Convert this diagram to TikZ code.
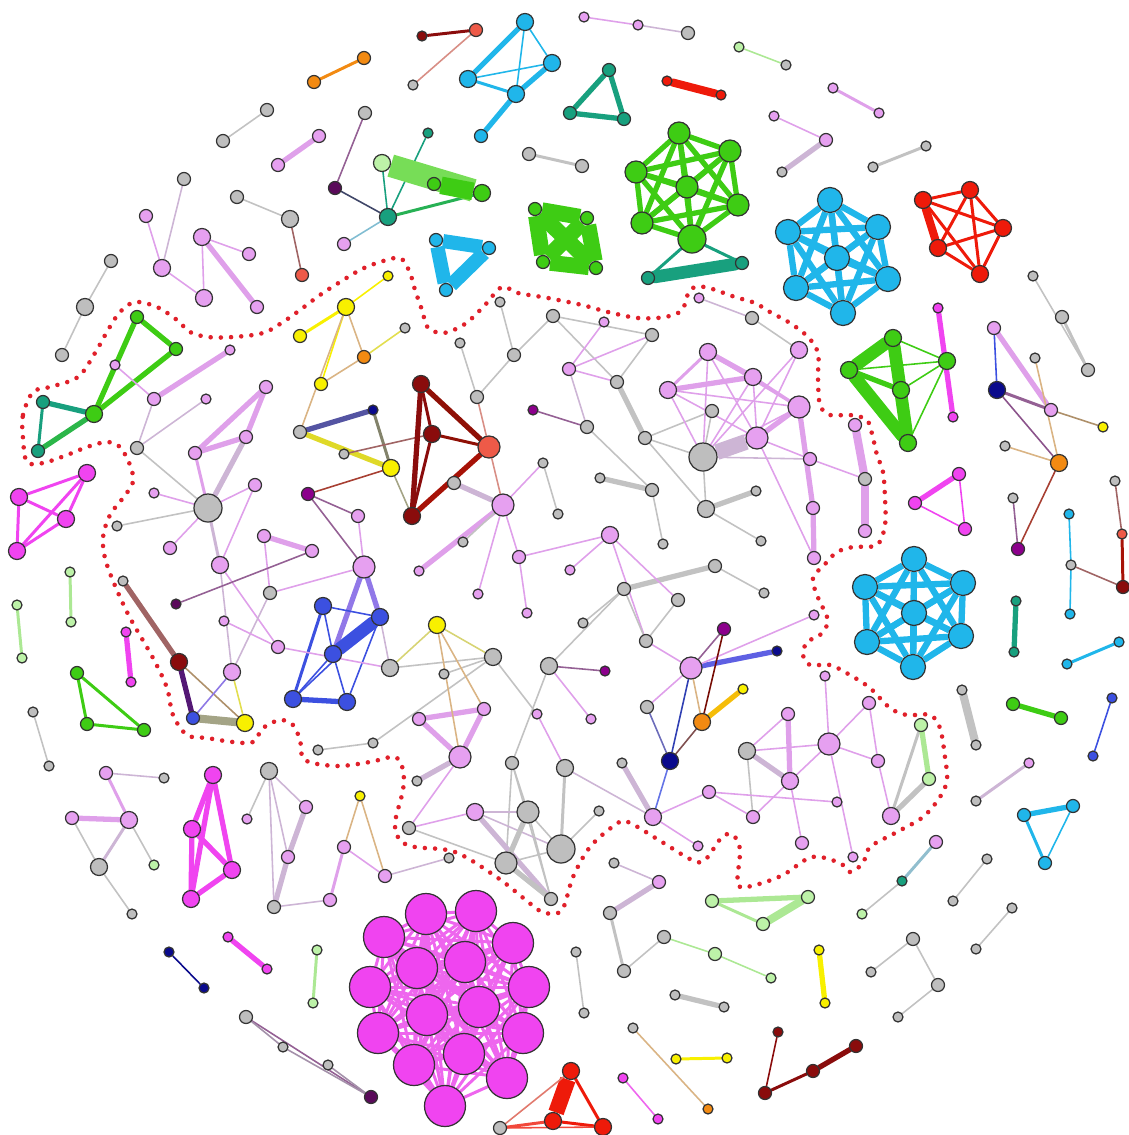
\documentclass[tikz,border=0pt]{standalone}
\pgfdeclarelayer{bg}
\pgfsetlayers{bg,main}

\definecolor{clil}{HTML}{E6A0F0}
\definecolor{cgry}{HTML}{BEBEBE}
\definecolor{cmag}{HTML}{F044F0}
\definecolor{ccyn}{HTML}{20B6EA}
\definecolor{cgrn}{HTML}{3ECC14}
\definecolor{ctea}{HTML}{18A07E}
\definecolor{crdd}{HTML}{EE1A0A}
\definecolor{cdrd}{HTML}{8A0C0C}
\definecolor{csal}{HTML}{EE5A48}
\definecolor{cblu}{HTML}{3C50E0}
\definecolor{cnvy}{HTML}{0A0A8C}
\definecolor{cyel}{HTML}{F8F000}
\definecolor{corg}{HTML}{F28A12}
\definecolor{clgr}{HTML}{BDF2A8}
\definecolor{cpur}{HTML}{8C008C}
\definecolor{cdpu}{HTML}{5A0A5A}
\definecolor{elil}{HTML}{DFA0EA}
\definecolor{egry}{HTML}{C2C2C2}
\definecolor{emix}{HTML}{CDB5D5}
\definecolor{elgr}{HTML}{ACE894}
\definecolor{epur}{HTML}{946094}
\definecolor{etan}{HTML}{DAB484}
\definecolor{ebrn}{HTML}{A06464}
\definecolor{eoli}{HTML}{A4A486}
\definecolor{emag}{HTML}{EE66EE}
\definecolor{cbnd}{HTML}{E0202A}

\tikzset{
  nd/.style={circle, draw=black!80, line width=0.35pt, inner sep=0pt},
  n1/.style={nd, minimum size=0.10cm},
  n2/.style={nd, minimum size=0.13cm},
  n3/.style={nd, minimum size=0.17cm},
  n4/.style={nd, minimum size=0.22cm},
  n5/.style={nd, minimum size=0.28cm},
  n6/.style={nd, minimum size=0.41cm},
  hx/.style={nd, minimum size=0.25cm},
  lil/.style={fill=clil}, gry/.style={fill=cgry}, mag/.style={fill=cmag},
  cyn/.style={fill=ccyn}, grn/.style={fill=cgrn}, tea/.style={fill=ctea},
  rdd/.style={fill=crdd}, drd/.style={fill=cdrd}, sal/.style={fill=csal},
  blu/.style={fill=cblu}, nvy/.style={fill=cnvy}, yel/.style={fill=cyel},
  org/.style={fill=corg}, lgr/.style={fill=clgr}, pur/.style={fill=cpur},
  dpu/.style={fill=cdpu},
  e1/.style={line width=0.45pt, line cap=round},
  e2/.style={line width=0.85pt, line cap=round},
  e3/.style={line width=1.5pt, line cap=round},
  e4/.style={line width=2.3pt, line cap=round},
  e5/.style={line width=3.6pt, line cap=round},
  bnd/.style={draw=cbnd, line width=1.3pt, line cap=round, dash pattern=on 0pt off 2.9pt}
}

\begin{document}
\begin{tikzpicture}[x=0.01cm, y=-0.01cm]
\useasboundingbox (0,0) rectangle (1129,1135);

% -------------------------------------------------------------
% dotted border round the giant component
% -------------------------------------------------------------
\draw[bnd] plot[smooth cycle, tension=0.55] coordinates {
  (23,438) (23,415) (33,392) (50,387) (78,377) (95,353) (108,330) (120,312)
  (135,302) (157,307) (177,320) (190,332) (208,337) (233,337) (263,333)
  (283,322) (300,310) (320,295) (340,282) (360,270) (377,263) (400,258)
  (410,273) (415,290) (422,310) (428,328) (443,333) (458,328) (470,320)
  (485,305) (502,287) (518,293) (548,298) (582,305) (608,312) (638,318)
  (665,317) (682,310) (690,290) (705,287) (735,297) (755,303) (770,312)
  (790,323) (808,337) (818,353) (818,378) (820,405) (830,415) (850,415)
  (867,420) (873,438) (877,455) (883,472) (885,498) (885,525) (877,545)
  (853,547) (837,552) (827,562) (813,578) (817,595) (823,608) (828,622)
  (820,635) (807,642) (803,655) (810,665) (830,665) (850,675) (870,688)
  (890,708) (907,715) (930,715) (940,728) (945,757) (947,780) (940,797)
  (923,817) (897,832) (870,847) (863,863) (850,872) (840,863) (812,857)
  (783,875) (755,885) (738,885) (740,850) (733,835) (722,837) (705,860)
  (692,860) (662,842) (628,822) (615,825) (590,847) (573,877) (562,910)
  (545,913) (532,905) (498,878) (455,852) (415,847) (400,840) (395,823)
  (403,790) (403,770) (395,757) (370,762) (337,766) (305,760) (300,740)
  (293,725) (280,720) (263,728) (253,742) (233,742) (207,738) (187,735)
  (173,715) (167,688) (153,658) (127,612) (107,565) (103,538) (110,515)
  (123,498) (133,482) (130,465) (120,447) (107,442) (87,447) (67,455)
  (43,463) (27,462)};

% -------------------------------------------------------------
% top left, outside
% -------------------------------------------------------------
\node[n2, org] (a1) at (314,82) {};
\node[n2, org] (a2) at (364,58) {};
\node[n2, gry] (a3) at (223,141) {};
\node[n2, gry] (a4) at (267,110) {};
\node[n2, lil] (a5) at (278,165) {};
\node[n2, lil] (a6) at (319,136) {};
\node[n2, gry] (a7) at (184,179) {};
\node[n2, lil] (a8) at (146,216) {};
\node[n3, lil] (a9) at (162,268) {};
\node[n3, lil] (a10) at (202,237) {};
\node[n2, lil] (a11) at (249,254) {};
\node[n3, lil] (a12) at (204,298) {};
\node[n2, lil] (a13) at (257,307) {};
\node[n2, gry] (a14) at (237,197) {};
\node[n3, gry] (a15) at (290,219) {};
\node[n2, sal] (a16) at (302,275) {};
\node[n2, gry] (a17) at (111,261) {};
\node[n3, gry] (a18) at (85,307) {};
\node[n2, gry] (a19) at (62,355) {};
\begin{pgfonlayer}{bg}
  \draw[e2, corg] (a1) -- (a2);
  \draw[e1, egry] (a3) -- (a4);
  \draw[e3, elil] (a5) -- (a6);
  \draw[e1, emix] (a9) -- (a7);
  \draw[e1, elil] (a9) -- (a8);
  \draw[e1, elil] (a9) -- (a12);
  \draw[e1, elil] (a10) -- (a11);
  \draw[e1, elil] (a10) -- (a12);
  \draw[e3, elil] (a10) -- (a13);
  \draw[e1, egry] (a14) -- (a15);
  \draw[e1, ebrn] (a15) -- (a16);
  \draw[e1, egry] (a17) -- (a18);
  \draw[e1, egry] (a18) -- (a19);
\end{pgfonlayer}

% teal star with the light green band
\node[n2, dpu] (b1) at (335,188) {};
\node[n2, gry] (b2) at (365,113) {};
\node[n3, tea] (b3) at (388,217) {};
\node[n2, lil] (b4) at (344,244) {};
\node[n1, tea] (b5) at (428,133) {};
\node[n3, lgr] (b6) at (382,163) {};
\node[n2, grn] (b7) at (434,184) {};
\node[n3, grn] (b8) at (482,193) {};
\begin{pgfonlayer}{bg}
  \draw[e1, epur] (b1) -- (b2);
  \draw[e1, cdpu!60!ctea] (b1) -- (b3);
  \draw[e1, ccyn!40!egry] (b4) -- (b3);
  \draw[e1, ctea] (b3) -- (b5);
  \draw[e1, ctea] (b3) -- (b6);
  \draw[e2, ctea!60!cgrn] (b3) -- (b8);
  \draw[line width=6.5pt, cgrn!55!clgr] (b6) -- (b8);
  \draw[line width=5pt, cgrn] (b7) -- (b8);
\end{pgfonlayer}

% -------------------------------------------------------------
% top middle, outside
% -------------------------------------------------------------
\node[n1, drd] (c1) at (422,36) {};
\node[n2, sal] (c2) at (476,30) {};
\node[n1, gry] (c3) at (413,85) {};
\node[n3, cyn] (c4) at (525,22) {};
\node[n3, cyn] (c5) at (552,63) {};
\node[n3, cyn] (c6) at (468,79) {};
\node[n3, cyn] (c7) at (516,94) {};
\node[n2, cyn] (c8) at (481,136) {};
\node[n1, lil] (c9) at (584,17) {};
\node[n1, lil] (c10) at (638,25) {};
\node[n2, gry] (c11) at (688,33) {};
\node[n1, lgr] (c12) at (739,47) {};
\node[n1, gry] (c13) at (786,65) {};
\node[n2, tea] (c14) at (609,70) {};
\node[n2, tea] (c15) at (570,113) {};
\node[n2, tea] (c16) at (624,119) {};
\node[n1, rdd] (c17) at (667,81) {};
\node[n1, rdd] (c18) at (721,95) {};
\node[n2, gry] (c19) at (529,154) {};
\node[n2, gry] (c20) at (582,166) {};
\begin{pgfonlayer}{bg}
  \draw[e2, cdrd] (c1) -- (c2);
  \draw[e1, csal!50!egry] (c2) -- (c3);
  \draw[e3, ccyn] (c4) -- (c6);
  \draw[e1, ccyn] (c4) -- (c5);
  \draw[e1, ccyn] (c4) -- (c7);
  \draw[e1, ccyn] (c6) -- (c5);
  \draw[e2, ccyn] (c6) -- (c7);
  \draw[e3, ccyn] (c5) -- (c7);
  \draw[e3, ccyn] (c7) -- (c8);
  \draw[e1, elil] (c9) -- (c10);
  \draw[e1, emix] (c10) -- (c11);
  \draw[e1, elgr] (c12) -- (c13);
  \draw[e3, ctea] (c14) -- (c15);
  \draw[e3, ctea] (c14) -- (c16);
  \draw[e3, ctea] (c15) -- (c16);
  \draw[e4, crdd] (c17) -- (c18);
  \draw[e2, egry] (c19) -- (c20);
\end{pgfonlayer}

% green K7 and its teal tail
\node[n4, grn] (d1) at (679,133) {};
\node[n4, grn] (d2) at (730,151) {};
\node[n4, grn] (d3) at (636,172) {};
\node[n4, grn] (d4) at (687,187) {};
\node[n4, grn] (d5) at (738,205) {};
\node[n4, grn] (d6) at (642,223) {};
\node[n5, grn] (d7) at (692,239) {};
\node[n2, tea] (d8) at (648,278) {};
\node[n2, tea] (d9) at (742,263) {};
\begin{pgfonlayer}{bg}
  \foreach \i in {1,...,6}{
    \pgfmathtruncatemacro\k{\i+1}
    \foreach \j in {\k,...,7}{\draw[e3, cgrn] (d\i) -- (d\j);}}
  \draw[e2, ctea] (d7) -- (d8);
  \draw[e2, ctea] (d7) -- (d9);
  \draw[e5, ctea] (d8) -- (d9);
\end{pgfonlayer}

% green K4 and cyan triangle
\node[n2, grn] (e1) at (535,209) {};
\node[n2, grn] (e2) at (587,218) {};
\node[n2, grn] (e3) at (543,262) {};
\node[n2, grn] (e4) at (596,268) {};
\node[n2, cyn] (f1) at (436,240) {};
\node[n2, cyn] (f2) at (489,248) {};
\node[n2, cyn] (f3) at (446,290) {};
\begin{pgfonlayer}{bg}
  \foreach \a/\b in {e1/e2,e1/e3,e1/e4,e2/e3,e2/e4,e3/e4}
    \draw[line width=4.5pt, cgrn] (\a) -- (\b);
  \foreach \a/\b in {f1/f2,f2/f3,f3/f1}
    \draw[line width=4pt, ccyn] (\a) -- (\b);
\end{pgfonlayer}

% -------------------------------------------------------------
% top right and right, outside
% -------------------------------------------------------------
\node[n1, lil] (g1) at (833,88) {};
\node[n1, lil] (g2) at (879,113) {};
\node[n1, lil] (g3) at (774,116) {};
\node[n2, lil] (g4) at (826,140) {};
\node[n1, gry] (g5) at (782,172) {};
\node[n1, gry] (g6) at (873,167) {};
\node[n1, gry] (g7) at (926,146) {};
\node[hx, cyn] (h1) at (830,200) {};
\node[hx, cyn] (h2) at (788,232) {};
\node[hx, cyn] (h3) at (878,227) {};
\node[hx, cyn] (h4) at (837,258) {};
\node[hx, cyn] (h5) at (796,288) {};
\node[hx, cyn] (h6) at (888,279) {};
\node[hx, cyn] (h7) at (843,313) {};
\node[n3, rdd] (r1) at (923,200) {};
\node[n3, rdd] (r2) at (970,190) {};
\node[n3, rdd] (r3) at (1003,228) {};
\node[n3, rdd] (r4) at (938,248) {};
\node[n3, rdd] (r5) at (980,274) {};
\node[n1, gry] (g8) at (1033,276) {};
\node[n2, gry] (g9) at (1062,317) {};
\node[n2, gry] (g10) at (1088,370) {};
\node[n1, mag] (g11) at (938,308) {};
\node[n1, mag] (g12) at (953,417) {};
\node[n3, grn] (k1) at (893,338) {};
\node[n3, grn] (k2) at (947,361) {};
\node[n3, grn] (k3) at (849,370) {};
\node[n3, grn] (k4) at (901,390) {};
\node[n3, grn] (k5) at (908,443) {};
\node[n2, lil] (g13) at (994,328) {};
\node[n3, nvy] (g14) at (997,390) {};
\node[n2, lil] (g15) at (1051,410) {};
\node[n1, yel] (g16) at (1103,427) {};
\node[n1, gry] (g17) at (1005,446) {};
\node[n3, org] (g18) at (1059,463) {};
\node[n1, gry] (g19) at (1035,358) {};
\node[n1, gry] (g20) at (1013,498) {};
\node[n2, pur] (g21) at (1018,549) {};
\node[n2, mag] (m1) at (959,474) {};
\node[n2, mag] (m2) at (915,503) {};
\node[n2, mag] (m3) at (965,529) {};
\node[n1, cyn] (g22) at (1069,514) {};
\node[n1, gry] (g23) at (1071,565) {};
\node[n1, cyn] (g24) at (1070,614) {};
\node[n1, gry] (g25) at (1115,481) {};
\node[n1, sal] (g26) at (1122,534) {};
\node[n2, drd] (g27) at (1123,587) {};
\node[hx, cyn] (p1) at (914,559) {};
\node[hx, cyn] (p2) at (865,587) {};
\node[hx, cyn] (p3) at (963,583) {};
\node[hx, cyn] (p4) at (914,613) {};
\node[hx, cyn] (p5) at (867,642) {};
\node[hx, cyn] (p6) at (961,636) {};
\node[hx, cyn] (p7) at (913,667) {};
\node[n1, tea] (g28) at (1016,601) {};
\node[n1, tea] (g29) at (1014,652) {};
\node[n1, cyn] (g30) at (1067,664) {};
\node[n1, cyn] (g31) at (1119,642) {};
\node[n1, gry] (g32) at (962,690) {};
\node[n1, gry] (g33) at (976,745) {};
\node[n2, grn] (g34) at (1013,704) {};
\node[n2, grn] (g35) at (1061,718) {};
\node[n1, blu] (g36) at (1112,698) {};
\node[n1, blu] (g37) at (1093,756) {};
\begin{pgfonlayer}{bg}
  \draw[e2, elil] (g1) -- (g2);
  \draw[e1, elil] (g3) -- (g4);
  \draw[e3, emix] (g4) -- (g5);
  \draw[e2, egry] (g6) -- (g7);
  \foreach \i in {1,...,6}{
    \pgfmathtruncatemacro\k{\i+1}
    \foreach \j in {\k,...,7}{\draw[line width=1.8pt, ccyn] (h\i) -- (h\j);}}
  \foreach \i in {1,...,4}{
    \pgfmathtruncatemacro\k{\i+1}
    \foreach \j in {\k,...,5}{\draw[e2, crdd] (r\i) -- (r\j);}}
  \draw[e4, crdd] (r1) -- (r4);
  \draw[e1, egry] (g8) -- (g10);
  \draw[e2, egry] (g9) -- (g10);
  \draw[e3, cmag] (g11) -- (g12);
  \draw[e5, cgrn] (k1) -- (k3);
  \draw[e5, cgrn] (k1) -- (k5);
  \draw[e5, cgrn] (k3) -- (k5);
  \draw[e3, cgrn] (k3) -- (k4);
  \draw[e3, cgrn] (k1) -- (k4);
  \draw[e3, cgrn] (k4) -- (k5);
  \foreach \j in {1,3,4,5} \draw[e1, cgrn] (k2) -- (k\j);
  \draw[e1, cblu] (g13) -- (g14);
  \draw[e3, elil] (g13) -- (g15);
  \draw[e2, epur] (g14) -- (g15);
  \draw[e1, cdpu!70] (g14) -- (g18);
  \draw[e1, etan!80!black] (g15) -- (g16);
  \draw[e1, etan] (g17) -- (g18);
  \draw[e1, etan] (g19) -- (g18);
  \draw[e1, epur] (g20) -- (g21);
  \draw[e1, csal!70!black] (g18) -- (g21);
  \draw[e3, cmag] (m1) -- (m2);
  \draw[e1, cmag] (m2) -- (m3);
  \draw[e1, cmag] (m1) -- (m3);
  \draw[e1, ccyn] (g22) -- (g23);
  \draw[e1, ccyn] (g23) -- (g24);
  \draw[e1, ebrn] (g25) -- (g26);
  \draw[e2, crdd!70!black] (g26) -- (g27);
  \draw[e1, ebrn] (g23) -- (g27);
  \foreach \i in {1,...,6}{
    \pgfmathtruncatemacro\k{\i+1}
    \foreach \j in {\k,...,7}{\draw[line width=1.8pt, ccyn] (p\i) -- (p\j);}}
  \draw[e3, ctea] (g28) -- (g29);
  \draw[e2, ccyn] (g30) -- (g31);
  \draw[e4, egry] (g32) -- (g33);
  \draw[e3, cgrn] (g34) -- (g35);
  \draw[e1, cblu] (g36) -- (g37);
\end{pgfonlayer}

% -------------------------------------------------------------
% bottom right, outside
% -------------------------------------------------------------
\node[n1, gry] (q1) at (976,801) {};
\node[n1, lil] (q2) at (1029,763) {};
\node[n2, cyn] (q3) at (1024,815) {};
\node[n2, cyn] (q4) at (1073,806) {};
\node[n2, cyn] (q5) at (1045,863) {};
\node[n1, gry] (q6) at (987,859) {};
\node[n1, gry] (q7) at (953,901) {};
\node[n1, gry] (q8) at (1012,908) {};
\node[n1, gry] (q9) at (976,949) {};
\node[n2, lil] (q10) at (936,842) {};
\node[n1, tea] (q11) at (902,881) {};
\node[n1, lgr] (q12) at (862,914) {};
\node[n2, lgr] (q13) at (712,901) {};
\node[n2, lgr] (q14) at (808,897) {};
\node[n2, lgr] (q15) at (763,924) {};
\node[n1, yel] (q16) at (819,950) {};
\node[n1, yel] (q17) at (825,1003) {};
\node[n1, gry] (q18) at (871,972) {};
\node[n2, gry] (q19) at (913,939) {};
\node[n2, gry] (q20) at (938,985) {};
\node[n1, gry] (q21) at (898,1017) {};
\node[n1, drd] (q22) at (778,1032) {};
\node[n2, drd] (q23) at (765,1093) {};
\node[n2, drd] (q24) at (813,1071) {};
\node[n2, drd] (q25) at (856,1046) {};
\begin{pgfonlayer}{bg}
  \draw[e2, emix] (q1) -- (q2);
  \draw[e3, ccyn] (q3) -- (q4);
  \draw[e2, ccyn] (q3) -- (q5);
  \draw[e1, ccyn] (q4) -- (q5);
  \draw[e1, egry] (q6) -- (q7);
  \draw[e1, egry] (q8) -- (q9);
  \draw[e2, ccyn!30!egry] (q10) -- (q11);
  \draw[e1, egry] (q11) -- (q12);
  \draw[e3, elgr] (q13) -- (q14);
  \draw[e4, elgr] (q14) -- (q15);
  \draw[e2, elgr] (q13) -- (q15);
  \draw[e3, cyel] (q16) -- (q17);
  \draw[e1, egry] (q18) -- (q19);
  \draw[e1, egry] (q19) -- (q20);
  \draw[e1, egry] (q20) -- (q21);
  \draw[e1, cdrd] (q22) -- (q23);
  \draw[e2, cdrd] (q23) -- (q24);
  \draw[e3, cdrd] (q24) -- (q25);
\end{pgfonlayer}

% -------------------------------------------------------------
% bottom middle, outside
% -------------------------------------------------------------
\node[n1, gry] (s1) at (614,863) {};
\node[n2, lil] (s2) at (659,882) {};
\node[n2, gry] (s3) at (610,913) {};
\node[n2, gry] (s4) at (624,971) {};
\node[n2, gry] (s5) at (664,937) {};
\node[n2, lgr] (s6) at (715,954) {};
\node[n1, lgr] (s7) at (771,978) {};
\node[n1, gry] (s8) at (576,952) {};
\node[n1, gry] (s9) at (584,1013) {};
\node[n1, gry] (s10) at (675,995) {};
\node[n1, gry] (s11) at (724,1007) {};
\node[n1, gry] (s12) at (633,1028) {};
\node[n1, org] (s13) at (708,1109) {};
\node[n1, yel] (s14) at (676,1059) {};
\node[n1, yel] (s15) at (727,1058) {};
\node[n1, mag] (s16) at (623,1078) {};
\node[n1, mag] (s17) at (658,1119) {};
\node[n3, rdd] (t1) at (571,1071) {};
\node[n3, rdd] (t2) at (553,1121) {};
\node[n3, rdd] (t3) at (603,1127) {};
\node[n2, gry] (t4) at (500,1128) {};
\begin{pgfonlayer}{bg}
  \draw[e1, emix] (s1) -- (s2);
  \draw[e3, emix] (s2) -- (s3);
  \draw[e2, egry] (s3) -- (s4);
  \draw[e1, egry] (s4) -- (s5);
  \draw[e1, elgr] (s5) -- (s6);
  \draw[e1, elgr] (s6) -- (s7);
  \draw[e1, egry] (s8) -- (s9);
  \draw[e3, egry] (s10) -- (s11);
  \draw[e1, etan] (s12) -- (s13);
  \draw[e2, cyel] (s14) -- (s15);
  \draw[e1, emag] (s16) -- (s17);
  \draw[line width=4.5pt, crdd] (t1) -- (t2);
  \draw[e2, crdd] (t1) -- (t3);
  \draw[e2, crdd] (t2) -- (t3);
  \draw[e1, csal!70!egry] (t4) -- (t1);
  \draw[e2, crdd!80] (t4) -- (t2);
  \draw[e1, crdd!80] (t4) -- (t3);
\end{pgfonlayer}

% big magenta clique
\node[n6, mag] (M1) at (426,914) {};
\node[n6, mag] (M2) at (476,911) {};
\node[n6, mag] (M3) at (384,937) {};
\node[n6, mag] (M4) at (513,943) {};
\node[n6, mag] (M5) at (417,968) {};
\node[n6, mag] (M6) at (465,962) {};
\node[n6, mag] (M7) at (370,987) {};
\node[n6, mag] (M8) at (529,987) {};
\node[n6, mag] (M9) at (427,1015) {};
\node[n6, mag] (M10) at (479,1007) {};
\node[n6, mag] (M11) at (378,1033) {};
\node[n6, mag] (M12) at (523,1033) {};
\node[n6, mag] (M13) at (414,1065) {};
\node[n6, mag] (M14) at (464,1054) {};
\node[n6, mag] (M15) at (507,1078) {};
\node[n6, mag] (M16) at (445,1106) {};
\begin{pgfonlayer}{bg}
  \foreach \i in {1,...,15}{
    \pgfmathtruncatemacro\k{\i+1}
    \foreach \j in {\k,...,16}{\draw[e2, emag] (M\i) -- (M\j);}}
\end{pgfonlayer}

% -------------------------------------------------------------
% bottom left and left, outside
% -------------------------------------------------------------
\node[n1, gry] (u1) at (33,712) {};
\node[n1, gry] (u2) at (49,766) {};
\node[n2, lil] (u3) at (106,773) {};
\node[n1, gry] (u4) at (164,778) {};
\node[n2, lil] (u5) at (72,818) {};
\node[n3, lil] (u6) at (129,820) {};
\node[n3, gry] (u7) at (99,867) {};
\node[n1, lgr] (u8) at (154,865) {};
\node[n1, gry] (u9) at (132,914) {};
\node[n3, mag] (v1) at (213,775) {};
\node[n3, mag] (v2) at (192,829) {};
\node[n3, mag] (v3) at (232,870) {};
\node[n3, mag] (v4) at (191,899) {};
\node[n3, gry] (w1) at (269,771) {};
\node[n1, lil] (w2) at (247,819) {};
\node[n2, lil] (w3) at (306,807) {};
\node[n2, lil] (w4) at (288,857) {};
\node[n2, gry] (w5) at (274,907) {};
\node[n2, lil] (w6) at (330,900) {};
\node[n2, lil] (w7) at (344,847) {};
\node[n1, yel] (w8) at (360,796) {};
\node[n2, lil] (w9) at (385,876) {};
\node[n1, nvy] (x1) at (169,952) {};
\node[n1, nvy] (x2) at (204,988) {};
\node[n1, mag] (x3) at (228,937) {};
\node[n1, mag] (x4) at (267,969) {};
\node[n1, lgr] (x5) at (317,950) {};
\node[n1, lgr] (x6) at (313,1003) {};
\node[n2, gry] (x7) at (246,1017) {};
\node[n1, gry] (x8) at (283,1047) {};
\node[n1, gry] (x9) at (328,1065) {};
\node[n2, dpu] (x10) at (371,1097) {};
\node[n3, mag] (y1) at (87,473) {};
\node[n3, mag] (y2) at (19,497) {};
\node[n3, mag] (y3) at (66,519) {};
\node[n3, mag] (y4) at (17,551) {};
\node[n1, lgr] (y5) at (70,572) {};
\node[n1, lgr] (y6) at (71,622) {};
\node[n1, lgr] (y7) at (17,605) {};
\node[n1, lgr] (y8) at (22,658) {};
\node[n1, mag] (y9) at (126,632) {};
\node[n1, mag] (y10) at (131,682) {};
\node[n2, grn] (y11) at (77,673) {};
\node[n2, grn] (y12) at (87,724) {};
\node[n2, grn] (y13) at (144,730) {};
\begin{pgfonlayer}{bg}
  \draw[e1, egry] (u1) -- (u2);
  \draw[e1, emix] (u3) -- (u4);
  \draw[e2, elil] (u3) -- (u6);
  \draw[e3, elil] (u5) -- (u6);
  \draw[e1, egry] (u5) -- (u7);
  \draw[e2, emix] (u6) -- (u7);
  \draw[e1, egry] (u6) -- (u8);
  \draw[e1, egry] (u7) -- (u9);
  \foreach \a/\b in {v1/v2,v1/v3,v1/v4,v2/v3,v2/v4,v3/v4}
    \draw[e3, cmag] (\a) -- (\b);
  \draw[e1, egry] (w1) -- (w2);
  \draw[e1, emix] (w1) -- (w3);
  \draw[e1, emix] (w1) -- (w5);
  \draw[e1, emix] (w1) -- (w4);
  \draw[e3, emix] (w3) -- (w4);
  \draw[e3, emix] (w4) -- (w5);
  \draw[e1, emix] (w5) -- (w6);
  \draw[e2, elil] (w6) -- (w7);
  \draw[e1, etan] (w7) -- (w8);
  \draw[e1, etan] (w8) -- (w9);
  \draw[e1, elil] (w7) -- (w9);
  \draw[e1, cnvy] (x1) -- (x2);
  \draw[e3, cmag] (x3) -- (x4);
  \draw[e2, elgr] (x5) -- (x6);
  \draw[e1, epur] (x7) -- (x10);
  \draw[e1, emix!80!black] (x7) -- (x8);
  \draw[e1, emix!80!black] (x8) -- (x10);
  \draw[e1, emix!80!black] (x9) -- (x10);
  \foreach \a/\b in {y1/y2,y1/y3,y1/y4,y2/y3,y2/y4,y3/y4}
    \draw[e2, cmag] (\a) -- (\b);
  \draw[e2, elgr] (y5) -- (y6);
  \draw[e2, elgr] (y7) -- (y8);
  \draw[e3, cmag] (y9) -- (y10);
  \draw[e2, cgrn] (y11) -- (y12);
  \draw[e2, cgrn] (y12) -- (y13);
  \draw[e2, cgrn] (y11) -- (y13);
\end{pgfonlayer}

% -------------------------------------------------------------
% inside the border: left part
% -------------------------------------------------------------
\node[n2, grn] (i1) at (137,317) {};
\node[n2, grn] (i2) at (176,349) {};
\node[n3, grn] (i3) at (94,414) {};
\node[n2, tea] (i4) at (43,402) {};
\node[n2, tea] (i5) at (38,451) {};
\node[n1, lil] (i6) at (230,350) {};
\node[n2, lil] (i7) at (154,399) {};
\node[n1, lil] (i8) at (115,365) {};
\node[n1, lil] (i9) at (206,399) {};
\node[n2, lil] (i10) at (266,387) {};
\node[n2, lil] (i11) at (246,437) {};
\node[n2, lil] (i12) at (195,453) {};
\node[n2, gry] (i13) at (137,448) {};
\node[n5, gry] (i14) at (208,508) {};
\node[n1, lil] (i15) at (154,493) {};
\node[n1, gry] (i16) at (117,526) {};
\node[n2, lil] (i17) at (255,485) {};
\node[n2, lil] (i18) at (170,548) {};
\node[n3, lil] (i19) at (220,565) {};
\node[n2, lil] (i20) at (264,536) {};
\node[n2, lil] (i21) at (312,551) {};
\node[n2, pur] (i22) at (308,494) {};
\node[n2, lil] (i23) at (358,516) {};
\node[n4, lil] (i24) at (364,567) {};
\node[n2, gry] (i25) at (270,593) {};
\node[n1, dpu] (i26) at (176,604) {};
\node[n1, lil] (i27) at (224,621) {};
\node[n2, lil] (i28) at (278,647) {};
\node[n3, lil] (i29) at (232,672) {};
\node[n1, gry] (i30) at (123,581) {};
\node[n3, drd] (i31) at (179,662) {};
\node[n2, blu] (i32) at (193,718) {};
\node[n3, yel] (i33) at (245,723) {};

% yellow, dark red and blue groups
\node[n2, yel] (j1) at (300,336) {};
\node[n3, yel] (j2) at (346,307) {};
\node[n2, org] (j3) at (364,357) {};
\node[n2, yel] (j4) at (321,384) {};
\node[n1, gry] (j5) at (405,328) {};
\node[n1, yel] (j6) at (388,276) {};
\node[n2, gry] (o1) at (300,432) {};
\node[n1, nvy] (o2) at (373,410) {};
\node[n3, yel] (o3) at (391,468) {};
\node[n1, gry] (o4) at (344,454) {};
\node[n3, drd] (o5) at (421,384) {};
\node[n3, drd] (o6) at (432,434) {};
\node[n4, sal] (o7) at (489,447) {};
\node[n3, drd] (o8) at (412,516) {};
\node[n2, gry] (o9) at (477,397) {};
\node[n2, gry] (o10) at (454,483) {};
\node[n4, lil] (o11) at (503,505) {};
\node[n1, gry] (o12) at (543,463) {};
\node[n1, gry] (o13) at (558,514) {};
\node[n1, lil] (o14) at (419,571) {};
\node[n1, gry] (o15) at (463,542) {};
\node[n2, lil] (o16) at (519,557) {};
\node[n1, lil] (o17) at (478,594) {};
\node[n1, lil] (o18) at (527,613) {};
\node[n3, lil] (o19) at (610,535) {};
\node[n1, lil] (o20) at (570,570) {};
\node[n1, gry] (o21) at (460,343) {};
\node[n1, gry] (o22) at (500,302) {};
\node[n2, gry] (o23) at (514,355) {};
\node[n3, blu] (bl1) at (323,606) {};
\node[n3, blu] (bl2) at (380,617) {};
\node[n3, blu] (bl3) at (333,654) {};
\node[n3, blu] (bl4) at (293,699) {};
\node[n3, blu] (bl5) at (347,702) {};
\begin{pgfonlayer}{bg}
  \draw[e3, cgrn] (i1) -- (i2);
  \draw[e3, cgrn] (i2) -- (i3);
  \draw[e3, cgrn] (i1) -- (i3);
  \draw[e3, ctea] (i4) -- (i3);
  \draw[e2, ctea] (i4) -- (i5);
  \draw[e3, ctea!50!cgrn] (i5) -- (i3);
  \draw[e3, elil] (i6) -- (i7);
  \draw[e1, elil] (i8) -- (i7);
  \draw[e1, emix] (i7) -- (i13);
  \draw[e1, emix] (i9) -- (i13);
  \draw[e1, egry] (i13) -- (i14);
  \draw[e3, elil] (i10) -- (i12);
  \draw[e3, elil] (i12) -- (i11);
  \draw[e3, elil] (i10) -- (i11);
  \draw[e3, emix] (i11) -- (i14);
  \draw[e2, elil] (i12) -- (i14);
  \draw[e1, elil] (i14) -- (i15);
  \draw[e1, egry] (i14) -- (i16);
  \draw[e1, elil] (i14) -- (i17);
  \draw[e1, elil] (i14) -- (i18);
  \draw[e2, emix] (i14) -- (i19);
  \draw[e1, elil] (i17) -- (i19);
  \draw[e1, emix] (i19) -- (i29);
  \draw[e1, elil] (i19) -- (i28);
  \draw[e3, elil] (i20) -- (i21);
  \draw[e1, elil] (i20) -- (i25);
  \draw[e1, emix] (i25) -- (i29);
  \draw[e1, epur] (i26) -- (i21);
  \draw[e1, epur] (i22) -- (i23);
  \draw[e1, epur] (i22) -- (i24);
  \draw[e1, elil] (i23) -- (i24);
  \draw[e1, elil] (i24) -- (i25);
  \draw[e1, csal!70!black] (i22) -- (o3);
  \draw[e1, elil] (i27) -- (i28);
  \draw[e3, ebrn] (i30) -- (i31);
  \draw[e3, cdpu!80!cblu] (i31) -- (i32);
  \draw[e1, etan!80!black] (i31) -- (i33);
  \draw[e4, eoli] (i32) -- (i33);
  \draw[e1, cblu!50!elil] (i32) -- (i29);
  \draw[e1, cyel!60!egry] (i29) -- (i33);
  \draw[e2, cyel] (j1) -- (j2);
  \draw[e1, etan] (j2) -- (j3);
  \draw[e1, cyel] (j2) -- (j4);
  \draw[e1, etan] (j3) -- (j4);
  \draw[e1, cyel!60!egry] (j5) -- (j3);
  \draw[e1, cyel] (j6) -- (j2);
  \draw[e3, cnvy!60!egry] (o1) -- (o2);
  \draw[e3, cyel!70!eoli] (o1) -- (o3);
  \draw[e2, eoli!80!black] (o2) -- (o3);
  \draw[e1, etan] (o1) -- (j2);
  \draw[e1, ebrn] (o4) -- (o6);
  \draw[e1, eoli] (o3) -- (o8);
  \draw[e3, cdrd] (o5) -- (o8);
  \draw[e3, crdd!60!black] (o5) -- (o7);
  \draw[e3, crdd!70!black] (o8) -- (o7);
  \draw[e2, crdd!60!black] (o6) -- (o7);
  \draw[e2, cdrd] (o5) -- (o6);
  \draw[e2, cdrd] (o6) -- (o8);
  \draw[e1, csal!50!egry] (o9) -- (o11);
  \draw[e3, emix] (o10) -- (o11);
  \draw[e1, elil] (o11) -- (o12);
  \draw[e1, egry] (o12) -- (o13);
  \draw[e3, elil] (o14) -- (o11);
  \draw[e1, egry] (o15) -- (o11);
  \draw[e1, elil] (o11) -- (o16);
  \draw[e1, elil] (o11) -- (o17);
  \draw[e1, elil] (o16) -- (o18);
  \draw[e1, elil] (o16) -- (o19);
  \draw[e1, elil] (o19) -- (o20);
  \draw[e1, egry] (o21) -- (o9);
  \draw[e1, egry] (o22) -- (o23);
  \draw[e1, egry] (o23) -- (o9);
  \draw[e3, cblu!50!clil] (i24) -- (bl3);
  \draw[e3, cblu!50!clil] (i24) -- (bl2);
  \draw[e5, cblu] (bl3) -- (bl2);
  \draw[e1, cblu] (bl1) -- (bl2);
  \draw[e1, cblu] (bl1) -- (bl3);
  \draw[e2, cblu] (bl1) -- (bl4);
  \draw[e1, cblu] (bl3) -- (bl4);
  \draw[e1, cblu] (bl3) -- (bl5);
  \draw[e3, cblu] (bl4) -- (bl5);
  \draw[e1, cblu] (bl2) -- (bl5);
  \draw[e1, cblu] (bl2) -- (bl4);
\end{pgfonlayer}

% -------------------------------------------------------------
% inside the border: upper right part
% -------------------------------------------------------------
\node[n2, gry] (cr1) at (553,316) {};
\node[n1, lil] (cr2) at (604,322) {};
\node[n2, gry] (cr3) at (652,335) {};
\node[n2, lil] (cr4) at (569,369) {};
\node[n2, gry] (cr5) at (617,382) {};
\node[n2, gry] (cr6) at (587,427) {};
\node[n1, pur] (cr7) at (533,410) {};
\node[n2, gry] (cr8) at (645,438) {};
\node[n1, gry] (cr9) at (600,478) {};
\node[n2, gry] (cr10) at (652,490) {};
\node[n1, gry] (cr11) at (663,544) {};
\node[n1, lil] (cr12) at (699,298) {};
\node[n2, gry] (cr13) at (752,318) {};
\node[n3, lil] (cr14) at (799,350) {};
\node[n3, lil] (cr15) at (708,352) {};
\node[n3, lil] (cr16) at (753,377) {};
\node[n3, lil] (cr17) at (668,390) {};
\node[n2, gry] (cr18) at (712,411) {};
\node[n4, lil] (cr19) at (799,407) {};
\node[n4, lil] (cr20) at (757,438) {};
\node[n5, gry] (cr21) at (703,457) {};
\node[n2, lil] (cr22) at (810,459) {};
\node[n1, gry] (cr23) at (756,491) {};
\node[n3, gry] (cr24) at (706,509) {};
\node[n1, gry] (cr25) at (761,541) {};
\node[n2, lil] (cr26) at (813,508) {};
\node[n2, lil] (cr27) at (814,558) {};
\node[n2, lil] (cr28) at (855,425) {};
\node[n2, gry] (cr29) at (865,479) {};
\node[n2, lil] (cr30) at (865,531) {};
\node[n1, gry] (cr31) at (764,593) {};
\begin{pgfonlayer}{bg}
  \draw[e1, egry] (o23) -- (cr1);
  \draw[e1, egry] (cr1) -- (cr3);
  \draw[e1, egry] (cr1) -- (cr5);
  \draw[e1, elil] (cr2) -- (cr4);
  \draw[e1, elil] (cr4) -- (cr3);
  \draw[e1, elil] (cr4) -- (cr5);
  \draw[e1, egry] (cr3) -- (cr5);
  \draw[e1, emix] (cr4) -- (cr6);
  \draw[e1, epur] (cr6) -- (cr7);
  \draw[e1, egry] (cr6) -- (cr10);
  \draw[e3, egry] (cr5) -- (cr8);
  \draw[e1, egry] (cr8) -- (cr21);
  \draw[e1, egry] (cr8) -- (cr18);
  \draw[e1, egry] (cr8) -- (cr24);
  \draw[e3, egry] (cr9) -- (cr10);
  \draw[e1, egry] (cr10) -- (cr11);
  \draw[e1, emix] (cr12) -- (cr13);
  \draw[e1, egry] (cr13) -- (cr14);
  \draw[e3, elil] (cr15) -- (cr16);
  \draw[e3, elil] (cr17) -- (cr16);
  \draw[e2, elil] (cr15) -- (cr17);
  \draw[e1, elil] (cr15) -- (cr21);
  \draw[e1, elil] (cr15) -- (cr20);
  \draw[e2, elil] (cr15) -- (cr19);
  \draw[e1, elil] (cr17) -- (cr19);
  \draw[e1, elil] (cr17) -- (cr21);
  \draw[e1, elil] (cr17) -- (cr20);
  \draw[e1, elil] (cr16) -- (cr20);
  \draw[e2, elil] (cr16) -- (cr19);
  \draw[e1, elil] (cr16) -- (cr21);
  \draw[e1, elil] (cr14) -- (cr21);
  \draw[e1, elil] (cr14) -- (cr20);
  \draw[e3, elil] (cr19) -- (cr20);
  \draw[e1, elil] (cr19) -- (cr21);
  \draw[line width=4.5pt, emix] (cr20) -- (cr21);
  \draw[e1, egry] (cr18) -- (cr21);
  \draw[e1, emix] (cr21) -- (cr22);
  \draw[e1, elil] (cr20) -- (cr22);
  \draw[e1, elil] (cr22) -- (cr29);
  \draw[e3, elil] (cr19) -- (cr26);
  \draw[e3, elil] (cr26) -- (cr27);
  \draw[e1, elil] (cr20) -- (cr27);
  \draw[e1, egry] (cr21) -- (cr24);
  \draw[e3, egry] (cr24) -- (cr23);
  \draw[e1, egry] (cr24) -- (cr25);
  \draw[e4, elil] (cr28) -- (cr29);
  \draw[e4, elil] (cr29) -- (cr30);
\end{pgfonlayer}

% -------------------------------------------------------------
% inside the border: lower part
% -------------------------------------------------------------
\node[n2, gry] (lc1) at (624,589) {};
\node[n2, gry] (lc2) at (715,566) {};
\node[n2, gry] (lc3) at (678,600) {};
\node[n2, gry] (lc4) at (646,641) {};
\node[n4, lil] (lc5) at (691,668) {};
\node[n2, pur] (lc6) at (724,629) {};
\node[n1, nvy] (lc7) at (777,651) {};
\node[n1, lil] (lc8) at (814,615) {};
\node[n1, yel] (lc9) at (743,689) {};
\node[n3, org] (lc10) at (702,722) {};
\node[n2, gry] (lc11) at (647,707) {};
\node[n3, nvy] (lc12) at (670,761) {};
\node[n1, gry] (lc13) at (583,623) {};
\node[n3, gry] (lc14) at (549,666) {};
\node[n1, pur] (lc15) at (605,671) {};
\node[n1, lil] (lc16) at (537,714) {};
\node[n1, lil] (lc17) at (591,719) {};
\node[n3, gry] (lc18) at (493,657) {};
\node[n3, yel] (lc19) at (437,625) {};
\node[n3, gry] (lc20) at (390,668) {};
\node[n1, gry] (lc21) at (444,674) {};
\node[n2, lil] (lb1) at (419,719) {};
\node[n2, lil] (lb2) at (484,709) {};
\node[n4, lil] (lb3) at (460,757) {};
\node[n1, gry] (lb4) at (417,781) {};
\node[n1, gry] (lb5) at (318,750) {};
\node[n1, gry] (lb6) at (373,743) {};
\node[n2, gry] (lb7) at (512,763) {};
\node[n3, gry] (lb8) at (565,768) {};
\node[n1, gry] (lb9) at (622,763) {};
\node[n3, lil] (lb10) at (475,812) {};
\node[n4, gry] (lb11) at (528,812) {};
\node[n1, gry] (lb12) at (599,811) {};
\node[n3, lil] (lb13) at (653,817) {};
\node[n2, lil] (lb14) at (709,792) {};
\node[n2, gry] (lb15) at (409,828) {};
\node[n5, gry] (lb16) at (561,849) {};
\node[n4, gry] (lb17) at (506,863) {};
\node[n1, gry] (lb18) at (449,858) {};
\node[n2, gry] (lb19) at (551,899) {};
\node[n1, lil] (lb20) at (698,846) {};
\node[n3, gry] (rl1) at (747,751) {};
\node[n2, lil] (rl2) at (788,714) {};
\node[n3, lil] (rl3) at (790,781) {};
\node[n1, lil] (rl4) at (825,676) {};
\node[n4, lil] (rl5) at (829,744) {};
\node[n2, lil] (rl6) at (869,703) {};
\node[n2, lil] (rl7) at (878,761) {};
\node[n1, lil] (rl8) at (837,802) {};
\node[n2, lil] (rl9) at (753,817) {};
\node[n2, lil] (rl10) at (802,843) {};
\node[n3, lil] (rl11) at (891,816) {};
\node[n2, lgr] (rl12) at (921,725) {};
\node[n2, lgr] (rl13) at (929,779) {};
\node[n1, lil] (rl14) at (853,857) {};
\begin{pgfonlayer}{bg}
  \draw[e1, elil] (i28) -- (lc20);
  \draw[e1, emix] (bl2) -- (lc20);
  \draw[e3, egry] (lc1) -- (lc2);
  \draw[e1, egry] (lc2) -- (cr31);
  \draw[e1, elil] (o19) -- (lc4);
  \draw[e1, elil] (o19) -- (lc3);
  \draw[e1, egry] (lc1) -- (lc4);
  \draw[e1, egry] (lc3) -- (lc4);
  \draw[e1, elil] (lc4) -- (lc5);
  \draw[e1, epur] (lc5) -- (lc6);
  \draw[e3, cblu!80!clil] (lc5) -- (lc7);
  \draw[e1, elil] (lc5) -- (lc8);
  \draw[e3, corg!50!cyel] (lc9) -- (lc10);
  \draw[e1, crdd!50!black] (lc10) -- (lc6);
  \draw[e1, etan] (lc10) -- (lc5);
  \draw[e1, elil] (lc5) -- (lc11);
  \draw[e1, cnvy!60] (lc11) -- (lc12);
  \draw[e1, cblu!80!black] (lc5) -- (lc12);
  \draw[e1, ebrn!80!black] (lc12) -- (lc10);
  \draw[e1, egry] (lc13) -- (lc1);
  \draw[e1, egry] (lc14) -- (lc1);
  \draw[e1, epur] (lc14) -- (lc15);
  \draw[e1, elil] (lc14) -- (lc17);
  \draw[e1, cyel!40!egry] (lc19) -- (lc20);
  \draw[e1, cyel!40!egry] (lc19) -- (lc18);
  \draw[e1, egry] (lc20) -- (lc18);
  \draw[e1, egry] (lc21) -- (lc18);
  \draw[e1, egry] (lc18) -- (lb6);
  \draw[e1, egry] (lb5) -- (lb6);
  \draw[e1, egry] (lc18) -- (lc16);
  \draw[e1, elil] (lc16) -- (lb8);
  \draw[e3, elil] (lb1) -- (lb2);
  \draw[e3, elil] (lb1) -- (lb3);
  \draw[e3, elil] (lb2) -- (lb3);
  \draw[e1, etan] (lc19) -- (lb3);
  \draw[e1, etan] (lc19) -- (lb2);
  \draw[e3, emix] (lb3) -- (lb4);
  \draw[e1, elil] (lb3) -- (lb15);
  \draw[e1, egry] (lc14) -- (lb7);
  \draw[e1, egry] (lb7) -- (lb11);
  \draw[e1, egry] (lb7) -- (lb19);
  \draw[e1, egry] (lb7) -- (lb17);
  \draw[e2, egry] (lb8) -- (lb16);
  \draw[e1, emix] (lb8) -- (lb13);
  \draw[e3, emix] (lb9) -- (lb13);
  \draw[e1, cblu!80] (lc12) -- (lb13);
  \draw[e1, elil] (lb13) -- (lb14);
  \draw[e1, elil] (lb13) -- (lb20);
  \draw[e1, emix] (lb10) -- (lb11);
  \draw[e1, emix] (lb10) -- (lb16);
  \draw[e3, emix] (lb10) -- (lb19);
  \draw[e3, egry] (lb11) -- (lb17);
  \draw[e1, egry] (lb11) -- (lb16);
  \draw[e1, egry] (lb16) -- (lb12);
  \draw[e1, egry] (lb16) -- (lb17);
  \draw[e1, egry] (lb15) -- (lb17);
  \draw[e1, emix] (lb18) -- (w9);
  \draw[e3, egry] (lb17) -- (lb19);
  \draw[e1, egry] (lb11) -- (lb19);
  \draw[e1, elil] (lb15) -- (lb10);
  \draw[e1, elil] (rl1) -- (rl5);
  \draw[e3, emix] (rl1) -- (rl3);
  \draw[e1, egry] (rl1) -- (rl9);
  \draw[e3, elil] (rl2) -- (rl3);
  \draw[e1, elil] (rl1) -- (rl2);
  \draw[e1, elil] (rl3) -- (rl5);
  \draw[e1, elil] (rl4) -- (rl5);
  \draw[e1, elil] (rl6) -- (rl5);
  \draw[e1, elil] (rl5) -- (rl7);
  \draw[e1, elil] (rl6) -- (rl7);
  \draw[e1, elil] (rl7) -- (rl11);
  \draw[e1, elil] (rl5) -- (rl14);
  \draw[e1, elil] (rl3) -- (rl9);
  \draw[e1, elil] (rl3) -- (rl10);
  \draw[e1, elil] (lb14) -- (rl8);
  \draw[e1, elil] (lb14) -- (rl9);
  \draw[e2, egry] (rl11) -- (rl12);
  \draw[e3, egry] (rl11) -- (rl13);
  \draw[e3, elgr] (rl12) -- (rl13);
\end{pgfonlayer}

\end{tikzpicture}
\end{document}
